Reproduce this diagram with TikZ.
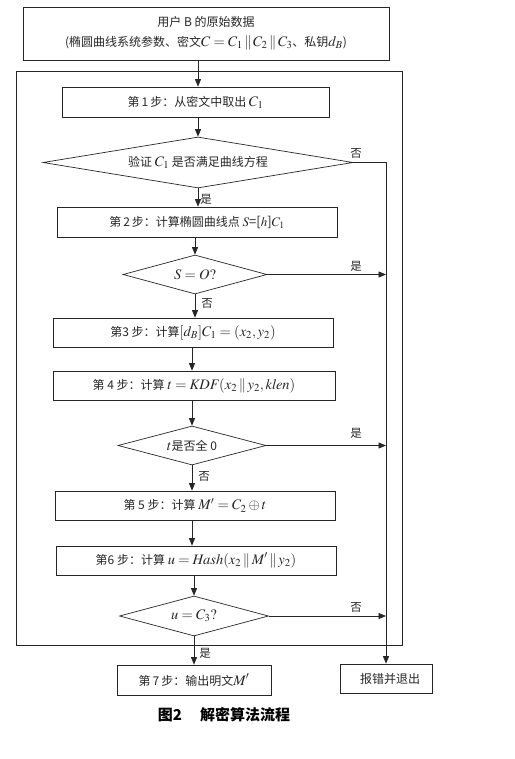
\documentclass[tikz,border=0pt]{standalone}
\usepackage{mathptmx}
\usepackage[no-math]{fontspec}
\setmainfont{Noto Sans CJK SC}
\usetikzlibrary{shapes.geometric,arrows.meta}
\newcommand\mm[1]{{\fontsize{14.5}{15}\selectfont$#1$}}
\begin{document}
\begin{tikzpicture}[x=1pt,y=-1pt,
  every node/.style={text=black!85},
  box/.style={draw=black!85, rectangle, inner sep=0pt, line width=0.7pt, font=\fontsize{12}{13}\selectfont},
  dia/.style={draw=black!85, diamond, aspect=6, inner sep=1pt, line width=0.7pt, font=\fontsize{12}{13}\selectfont},
  arr/.style={draw=black!85, line width=0.7pt, -{Triangle[length=7.5pt,width=6pt]}},
  lbl/.style={inner sep=0pt, font=\fontsize{11.5}{12}\selectfont}]
\useasboundingbox (0,0) rectangle (514,759);
% outer frame
\node[draw=black!85, line width=0.7pt, rectangle, inner sep=0pt, minimum width=386, minimum height=574] (frame) at (209,358) {};
% boxes
\node[box, minimum width=366, minimum height=53, align=center, font=\fontsize{12}{20}\selectfont] (top) at (206,33.5)
  {用户 B 的原始数据\\(椭圆曲线系统参数、密文\mm{C=C_1\,\|\,C_2\,\|\,C_3}、私钥\mm{d_B})};
\node[box, minimum width=267, minimum height=30] (s1) at (195.5,102) {第\,1\,步：从密文中取出 \mm{C_1}};
\node[dia, minimum width=310, minimum height=51] (d1) at (198,162.5) {验证 \mm{C_1} 是否满足曲线方程};
\node[box, minimum width=280, minimum height=30] (s2) at (197,222) {第\,2\,步：计算椭圆曲线点 {\fontsize{13}{14}\selectfont$S$=[$h$]$C_1$}};
\node[dia, aspect=3.7, minimum width=144, minimum height=39] (d2) at (195,274.5) {\mm{S=O?}};
\node[box, minimum width=280, minimum height=29] (s3) at (193,332.5) {第3 步：计算\mm{[d_B]C_1=(x_2,y_2)}};
\node[box, minimum width=282, minimum height=29] (s4) at (194,385.5) {第 4 步：计算 \mm{t=\mathit{KDF}(x_2\,\|\,y_2,\mathit{klen})}};
\node[dia, aspect=3.7, minimum width=148, minimum height=39] (d3) at (192,445.5) {\mm{t}是否全 0};
\node[box, minimum width=280, minimum height=29] (s5) at (195,505.5) {第 5 步：计算 \mm{M'=C_2\oplus t}};
\node[box, minimum width=280, minimum height=29] (s6) at (196,560.5) {第6 步：计算 \mm{u=\mathit{Hash}(x_2\,\|\,M'\,\|\,y_2)}};
\node[dia, aspect=3.7, minimum width=149, minimum height=40] (d4) at (194,616) {\mm{u=C_3?}};
\node[box, minimum width=154, minimum height=30] (s7) at (194,680) {第\,7\,步：输出明文\mm{M'}};
\node[box, minimum width=92, minimum height=29] (err) at (386,678.5) {\hspace{8pt}报错并退出};
% connectors
\draw[arr] (top.south -| d1.north) -- (s1.north -| d1.north);
\draw[arr] (s1.south -| d1.north) -- (d1.north);
\draw[arr] (d1.south) -- (s2.north -| d1.south);
\draw[arr] (s2.south -| d2.north) -- (d2.north);
\draw[arr] (d2.south) -- (s3.north -| d2.south);
\draw[arr] (s3.south -| d3.north) -- (s4.north -| d3.north);
\draw[arr] (s4.south -| d3.north) -- (d3.north);
\draw[arr] (d3.south) -- (s5.north -| d3.south);
\draw[arr] (s5.south -| d3.south) -- (s6.north -| d3.south);
\draw[arr] (s6.south -| d4.north) -- (d4.north);
\draw[arr] (d4.south) -- (s7.north -| d4.south);
\draw[arr] (d1.east) -| (err.north);
\draw[arr] (d2.east) -- (d2.east -| err.north);
\draw[arr] (d3.east) -- (d3.east -| err.north);
\draw[arr] (d4.east) -- (d4.east -| err.north);
% labels
\node[lbl] (l1) at (356,153) {否};
\node[lbl] (l2) at (206,199) {是};
\node[lbl] (l3) at (356,266) {是};
\node[lbl] (l4) at (207,303) {否};
\node[lbl] (l5) at (356,433) {是};
\node[lbl] (l6) at (204,476) {否};
\node[lbl] (l7) at (356,607) {否};
\node[lbl] (l8) at (205,653) {是};
% caption
\node[inner sep=0pt, text=black, font=\bfseries\fontsize{15}{17}\selectfont] (cap) at (224,715) {图2\hspace{1.2em}解密算法流程};
\end{tikzpicture}
\end{document}
